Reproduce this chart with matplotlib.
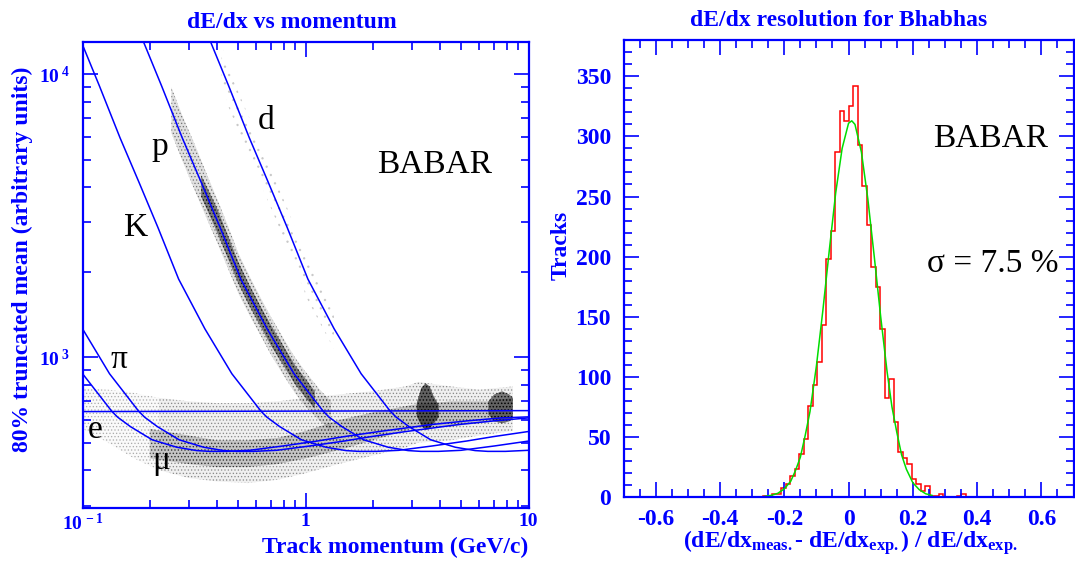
import matplotlib
matplotlib.use('Agg')
import matplotlib.pyplot as plt
import numpy as np
from matplotlib.ticker import MultipleLocator, LogLocator, NullFormatter, FixedLocator, FixedFormatter

plt.rcParams['font.family'] = 'Liberation Serif'
plt.rcParams['mathtext.fontset'] = 'custom'
plt.rcParams['mathtext.rm'] = 'Liberation Serif'
plt.rcParams['mathtext.bf'] = 'Liberation Serif:bold'
plt.rcParams['mathtext.it'] = 'Liberation Serif:italic'
plt.rcParams['axes.unicode_minus'] = False
plt.rcParams['hatch.linewidth'] = 0.6

BLUE = '#0000ff'

# ---- left panel data: expected dE/dx vs beta*gamma
bg = [0.19, 0.20, 0.241, 0.298, 0.363, 0.441, 0.546, 0.716, 0.946, 1.28, 1.36,
      1.55, 1.94, 2.5, 3.07, 3.5, 4.2, 5.3, 7.5, 10.7, 14, 20, 35, 50, 72, 95, 110]
bg_dedx = [14000, 13000, 9090, 5970, 4146, 2876, 1891, 1262, 876, 645, 615,
           570, 512, 482, 469, 466, 466, 470, 487, 507, 525, 547, 580, 597, 612, 617, 620]
masses = {'mu': 0.1057, 'pi': 0.1396, 'K': 0.4937, 'p': 0.9383, 'd': 1.8756}
e_p = [0.1, 10]
e_dedx = [644, 649]

# scatter cloud, drawn as stippled bands (momentum, low, high)
pband_p = [0.25, 0.28, 0.32, 0.36, 0.40, 0.45, 0.50, 0.56, 0.63, 0.70, 0.80, 0.90, 1.00, 1.15, 1.30]
pband_lo = [6200, 4950, 3850, 3100, 2560, 2050, 1680, 1410, 1190, 1020, 860, 745, 670, 600, 550]
pband_hi = [9000, 7150, 5600, 4450, 3650, 2900, 2330, 1940, 1620, 1390, 1160, 995, 890, 775, 700]
pcore_p = [0.34, 0.40, 0.45, 0.50, 0.56, 0.63, 0.70, 0.80, 0.90, 1.00, 1.10]
pcore_lo = [3700, 2780, 2220, 1820, 1520, 1280, 1100, 930, 800, 720, 660]
pcore_hi = [4400, 3380, 2680, 2170, 1800, 1510, 1300, 1090, 935, 840, 760]
dband_p = [0.42, 0.45, 0.56, 0.68, 0.83, 1.02, 1.34]
dband_lo = [9500, 7700, 5100, 3550, 2450, 1600, 1070]
dband_hi = [13000, 10500, 7000, 4850, 3350, 2200, 1460]
low_p = [0.10, 0.13, 0.17, 0.22]
low_lo = [560, 500, 440, 400]
low_hi = [780, 770, 750, 720]
mip_p = [0.22, 0.30, 0.40, 0.55, 0.75, 1.0, 1.4, 2.0, 2.8, 3.2, 4.5, 6.0, 8.5]
mip_lo = [400, 375, 365, 360, 370, 390, 420, 450, 480, 500, 510, 530, 550]
mip_hi = [720, 700, 690, 690, 700, 720, 740, 760, 790, 820, 790, 770, 790]
mcore_p = [0.2, 0.3, 0.4, 0.55, 0.75, 1.0, 1.4, 2.0, 3.0, 4.5, 6.5, 8.5]
mcore_lo = [440, 420, 410, 410, 420, 440, 470, 510, 560, 570, 590, 600]
mcore_hi = [560, 530, 510, 510, 520, 550, 600, 640, 680, 700, 700, 720]
blob1_p = [3.15, 3.3, 3.45, 3.6, 3.75, 3.95]
blob1_lo = [620, 575, 555, 560, 585, 615]
blob1_hi = [690, 780, 810, 790, 730, 680]
blob2_p = [6.6, 7.0, 7.6, 8.2, 8.5]
blob2_lo = [630, 595, 585, 595, 610]
blob2_hi = [700, 740, 760, 740, 720]

# ---- right panel data: histogram of Bhabha resolution
hist_lo = -0.266
bin_w = 0.014
counts = [1, 1, 2, 2, 7, 11, 17, 23, 36, 48, 76, 93, 112, 143, 198, 221, 287, 321, 313,
          325, 342, 293, 259, 226, 191, 175, 140, 82, 98, 62, 37, 32, 27, 15, 11, 5, 9,
          1, 1, 2, 0, 0, 0, 1, 2]
fit_x = [-0.26, -0.24, -0.22, -0.20, -0.18, -0.165, -0.15, -0.135, -0.12, -0.10, -0.08,
         -0.06, -0.04, -0.02, 0.0, 0.01, 0.02, 0.04, 0.06, 0.08, 0.10, 0.12, 0.135, 0.15,
         0.165, 0.18, 0.20, 0.22, 0.24, 0.26]
fit_y = [0.5, 1.3, 3, 6.7, 13, 22, 33, 51, 71, 109, 155, 205, 253, 290, 311, 313, 310,
         287, 248, 200, 150, 104, 75, 54, 35, 23, 11.8, 6, 2.6, 1.2]

W, H = 1075, 561
fig = plt.figure(figsize=(W / 100, H / 100), dpi=100)
ax1 = fig.add_axes([82.6 / W, 1 - 507.6 / H, (528.6 - 82.6) / W, (507.6 - 42) / H])
ax2 = fig.add_axes([623.6 / W, 1 - 496.9 / H, (1073.5 - 623.6) / W, (496.9 - 40.3) / H])

# ---------------- left
def cloud(x, lo, hi, shade, dots, hatch='.....'):
    ax1.fill_between(x, lo, hi, facecolor=(0, 0, 0, shade), edgecolor=(0, 0, 0, dots),
                     hatch=hatch, lw=0)

cloud(low_p, low_lo, low_hi, 0.02, 0.25)
cloud(dband_p, dband_lo, dband_hi, 0.0, 0.15, hatch='..')
cloud(mip_p, mip_lo, mip_hi, 0.06, 0.35)
cloud(mcore_p, mcore_lo, mcore_hi, 0.18, 0.45)
cloud(pband_p, pband_lo, pband_hi, 0.12, 0.4)
cloud(pcore_p, pcore_lo, pcore_hi, 0.45, 0.65)
cloud(blob1_p, blob1_lo, blob1_hi, 0.6, 0.75)
cloud(blob2_p, blob2_lo, blob2_hi, 0.5, 0.7)

bg_arr = np.array(bg)
for name, m in masses.items():
    ax1.plot(bg_arr * m, bg_dedx, color=BLUE, lw=1.1)
ax1.plot(e_p, e_dedx, color=BLUE, lw=1.1)

ax1.set_xscale('log')
ax1.set_yscale('log')
ax1.set_xlim(0.1, 10)
ax1.set_ylim(295, 13000)

ax1.xaxis.set_major_locator(FixedLocator([0.1, 1, 10]))
ax1.xaxis.set_major_formatter(FixedFormatter([r'$\mathbf{10}^{\mathbf{\,-1}}$', '1', '10']))
ax1.yaxis.set_major_locator(FixedLocator([1e3, 1e4]))
ax1.yaxis.set_major_formatter(FixedFormatter([r'$\mathbf{10}^{\mathbf{\ 3}}$', r'$\mathbf{10}^{\mathbf{\ 4}}$']))
ax1.xaxis.set_minor_locator(LogLocator(base=10, subs=np.arange(2, 10)))
ax1.yaxis.set_minor_locator(LogLocator(base=10, subs=np.arange(2, 10)))
ax1.xaxis.set_minor_formatter(NullFormatter())
ax1.yaxis.set_minor_formatter(NullFormatter())

lbl = dict(color='k', fontsize=24, ha='center', va='center')
ax1.text(0.222, 5530, 'p', **lbl)
ax1.text(0.663, 6840, 'd', **lbl)
ax1.text(0.1734, 2871, 'K', **lbl)
ax1.text(0.145, 980, 'π', **lbl)
ax1.text(0.114, 557, 'e', **lbl)
ax1.text(0.2243, 433, 'μ', **lbl)
ax1.text(3.785, 4800, 'BABAR', **lbl)

# ---------------- right
edges = hist_lo + bin_w * np.arange(len(counts) + 1)
ax2.stairs(counts, edges, color='red', lw=1.1)
ax2.plot(fit_x, fit_y, color='#00dd00', lw=1.1)
ax2.set_xlim(-0.7, 0.7)
ax2.set_ylim(0, 380)
ax2.xaxis.set_major_locator(MultipleLocator(0.2))
ax2.xaxis.set_minor_locator(MultipleLocator(0.05))
ax2.yaxis.set_major_locator(MultipleLocator(50))
ax2.yaxis.set_minor_locator(MultipleLocator(10))
ax2.xaxis.set_major_formatter(plt.FuncFormatter(lambda v, pos: '%g' % round(v, 2)))
ax2.text(0.441, 298, 'BABAR', **lbl)
ax2.text(0.449, 194, 'σ = 7.5 %', **lbl)

for ax in (ax1, ax2):
    for s in ax.spines.values():
        s.set_color(BLUE)
        s.set_linewidth(1.6)
    ax.tick_params(which='both', direction='in', top=True, right=True,
                   color=BLUE, labelcolor=BLUE, width=1.2)
    ax.tick_params(which='major', length=11)
    ax.tick_params(which='minor', length=6)
    for t in ax.get_xticklabels() + ax.get_yticklabels():
        t.set_fontweight('bold')

ax1.tick_params(which='major', labelsize=14)
ax1.tick_params(axis='x', which='major', pad=4)
ax1.tick_params(axis='y', which='major', pad=9)
ax2.tick_params(which='major', labelsize=17, pad=9)

tkw = dict(color=BLUE, fontweight='bold', fontsize=17)
fig.text(291.5 / W, 1 - 22 / H, 'dE/dx vs momentum', ha='center', va='center', **tkw)
fig.text(838.5 / W, 1 - 20 / H, 'dE/dx resolution for Bhabhas', ha='center', va='center', **tkw)
fig.text(528.6 / W, 1 - 547 / H, 'Track momentum (GeV/c)', ha='right', va='center', **tkw)
fig.text(22 / W, 1 - 259 / H, '80% truncated mean (arbitrary units)', ha='center', va='center',
         rotation=90, **tkw)
fig.text(561 / W, 1 - 245 / H, 'Tracks', ha='center', va='center', rotation=90, **tkw)
fig.text(850 / W, 1 - 543 / H,
         r'(dE/dx$_{\mathbf{meas.}}$- dE/dx$_{\mathbf{exp.}}$) / dE/dx$_{\mathbf{exp.}}$',
         ha='center', va='center', **tkw)

fig.savefig('out.png', dpi=100)
